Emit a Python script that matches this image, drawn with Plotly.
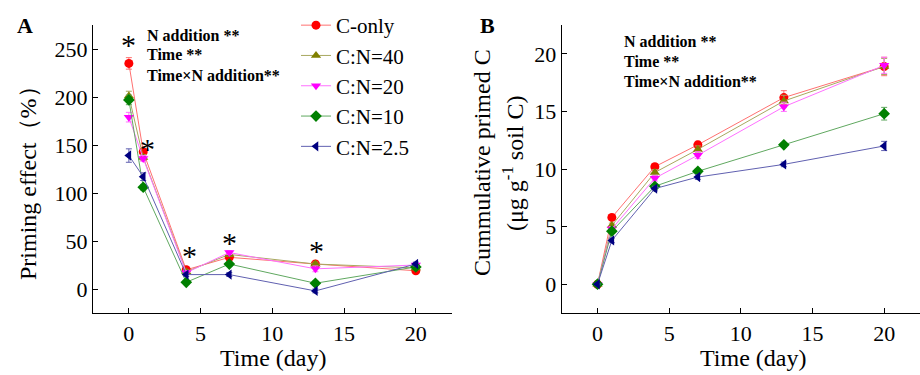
import plotly.graph_objects as go

days = [0, 1, 4, 7, 13, 20]
series_names = ["C-only", "C:N=40", "C:N=20", "C:N=10", "C:N=2.5"]

pe_conly = [235, 143, 20, 33, 26, 19]
pe_cn40 = [201, 137, 18, 36, 26, 22]
pe_cn20 = [179, 136, 17, 38, 21, 25]
pe_cn10 = [197, 106, 7, 26, 6, 23]
pe_cn25 = [139, 117, 15, 15, -2, 26]

pe_err_conly = [6, 3, 2, 2, 2, 2]
pe_err_cn40 = [5, 3, 2, 2, 2, 2]
pe_err_cn20 = [5, 3, 2, 2, 3, 2]
pe_err_cn10 = [5, 3, 2, 2, 2, 2]
pe_err_cn25 = [7, 4, 2, 2, 2, 2]

cum_conly = [0, 5.8, 10.2, 12.1, 16.2, 18.9]
cum_cn40 = [0, 5.1, 9.7, 11.7, 15.9, 18.9]
cum_cn20 = [0, 4.8, 9.2, 11.2, 15.4, 19.0]
cum_cn10 = [0, 4.6, 8.5, 9.8, 12.1, 14.8]
cum_cn25 = [0, 3.8, 8.3, 9.3, 10.4, 12.0]

cum_err_conly = [0.05, 0.2, 0.25, 0.3, 0.6, 0.8]
cum_err_cn40 = [0.05, 0.2, 0.25, 0.3, 0.5, 0.7]
cum_err_cn20 = [0.05, 0.2, 0.25, 0.3, 0.4, 0.7]
cum_err_cn10 = [0.05, 0.2, 0.2, 0.2, 0.2, 0.55]
cum_err_cn25 = [0.05, 0.2, 0.2, 0.2, 0.2, 0.4]

star_x = [0, 1.3, 4.2, 7.0, 13.1]
star_y = [255, 146, 35, 48, 40]

stats_lines = ["N addition **", "Time **", "Time×N addition**"]

colors = ["#FF0000", "#808000", "#FF00FF", "#008000", "#000080"]
line_colors = ["#FF7070", "#A8A860", "#FF70FF", "#60A860", "#6060B0"]
symbols = ["circle", "triangle-up", "triangle-down", "diamond", "triangle-left"]

pe_all = [pe_conly, pe_cn40, pe_cn20, pe_cn10, pe_cn25]
pe_err_all = [pe_err_conly, pe_err_cn40, pe_err_cn20, pe_err_cn10, pe_err_cn25]
cum_all = [cum_conly, cum_cn40, cum_cn20, cum_cn10, cum_cn25]
cum_err_all = [cum_err_conly, cum_err_cn40, cum_err_cn20, cum_err_cn10, cum_err_cn25]

FONT = "Liberation Serif"
ML, MT, MB = 93, 25, 62
PW, PH = 920 - ML, 375 - MT - MB


def pxx(px):
    return (px - ML) / PW


def pxy(py):
    # py: pixel from top of figure
    return (375 - MB - py) / PH


fig = go.Figure()
for i, name in enumerate(series_names):
    fig.add_trace(go.Scatter(
        x=days, y=pe_all[i], name=name, mode="lines+markers",
        line=dict(color=line_colors[i], width=1),
        marker=dict(color=colors[i], symbol=symbols[i], size=9),
        error_y=dict(type="data", array=pe_err_all[i], color=line_colors[i], thickness=1, width=3),
        xaxis="x", yaxis="y", showlegend=True,
    ))
for i, name in enumerate(series_names):
    fig.add_trace(go.Scatter(
        x=days, y=cum_all[i], name=name, mode="lines+markers",
        line=dict(color=line_colors[i], width=1),
        marker=dict(color=colors[i], symbol=symbols[i], size=9),
        error_y=dict(type="data", array=cum_err_all[i], color=line_colors[i], thickness=1, width=3),
        xaxis="x2", yaxis="y2", showlegend=False,
    ))

axis_common = dict(
    showline=True, linecolor="black", linewidth=1.2, ticks="inside", ticklen=5,
    tickcolor="black", showgrid=False, zeroline=False, mirror=False,
    tickfont=dict(family=FONT, size=22, color="black"),
)

da = [0, pxx(451.7)]
db = [pxx(561.7), 1.0]

ann = []
for sx, sy in zip(star_x, star_y):
    ann.append(dict(x=sx, y=sy, xref="x", yref="y", text="*", showarrow=False,
                    xanchor="center", yanchor="middle",
                    font=dict(family=FONT, size=30, color="black")))
for k, t in enumerate(stats_lines):
    ann.append(dict(x=pxx(145), y=pxy(35 + 20 * k), xref="paper", yref="paper", text="<b>" + t + "</b>",
                    showarrow=False, xanchor="left", yanchor="middle",
                    font=dict(family=FONT, size=16, color="black")))
    ann.append(dict(x=pxx(621.7), y=pxy(41.7 + 20 * k), xref="paper", yref="paper", text="<b>" + t + "</b>",
                    showarrow=False, xanchor="left", yanchor="middle",
                    font=dict(family=FONT, size=16, color="black")))

ann.append(dict(x=pxx(25), y=pxy(26), xref="paper", yref="paper", xanchor="center", yanchor="middle",
                text="<b>A</b>", showarrow=False, font=dict(family=FONT, size=22, color="black")))
ann.append(dict(x=pxx(487), y=pxy(26), xref="paper", yref="paper", xanchor="center", yanchor="middle",
                text="<b>B</b>", showarrow=False, font=dict(family=FONT, size=22, color="black")))
ann.append(dict(x=pxx(28), y=pxy(177), xref="paper", yref="paper", xanchor="center", yanchor="middle",
                text="Priming effect（%）", textangle=-90, showarrow=False,
                font=dict(family=FONT, size=24, color="black")))
ann.append(dict(x=pxx(482), y=pxy(163), xref="paper", yref="paper", xanchor="center", yanchor="middle",
                text="Cummulative primed C", textangle=-90, showarrow=False,
                font=dict(family=FONT, size=24, color="black")))
ann.append(dict(x=pxx(513), y=pxy(163), xref="paper", yref="paper", xanchor="center", yanchor="middle",
                text="(μg g<sup>-1</sup> soil C)", textangle=-90, showarrow=False,
                font=dict(family=FONT, size=24, color="black")))
ann.append(dict(x=pxx(273), y=pxy(358), xref="paper", yref="paper", xanchor="center", yanchor="middle",
                text="Time (day)", showarrow=False, font=dict(family=FONT, size=24, color="black")))
ann.append(dict(x=pxx(753), y=pxy(358), xref="paper", yref="paper", xanchor="center", yanchor="middle",
                text="Time (day)", showarrow=False, font=dict(family=FONT, size=24, color="black")))

fig.update_layout(
    width=920, height=375,
    margin=dict(l=ML, r=0, t=MT, b=MB),
    paper_bgcolor="white", plot_bgcolor="white",
    xaxis=dict(domain=da, range=[-2.5, 22.5], tickvals=[0, 5, 10, 15, 20], anchor="y", **axis_common),
    yaxis=dict(domain=[0, 1], range=[-25, 275], tickvals=[0, 50, 100, 150, 200, 250], anchor="x", **axis_common),
    xaxis2=dict(domain=db, range=[-2.5, 22.5], tickvals=[0, 5, 10, 15, 20], anchor="y2", **axis_common),
    yaxis2=dict(domain=[0, 1], range=[-2.5, 22.5], tickvals=[0, 5, 10, 15, 20], anchor="x2", **axis_common),
    legend=dict(
        x=pxx(296), y=pxy(5), xanchor="left", yanchor="top",
        font=dict(family=FONT, size=21, color="black"),
        bgcolor="rgba(0,0,0,0)", tracegroupgap=0, itemwidth=30,
    ),
    showlegend=True,
    annotations=ann,
)

fig.write_html("out.html")
